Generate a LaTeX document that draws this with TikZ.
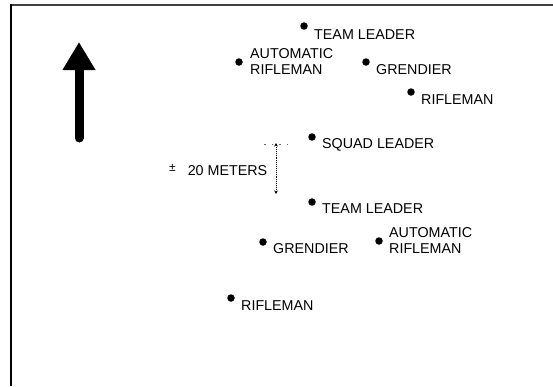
\documentclass[tikz,border=0pt]{standalone}
\usepackage{fontspec}
\setmainfont{Liberation Sans}
\usetikzlibrary{arrows.meta}
\tikzset{
  man/.style={circle,fill=black,inner sep=0pt,minimum size=7.5pt},
  lbl/.style={anchor=base west,inner sep=0pt,align=left,font=\fontsize{14.3}{16}\selectfont}
}
\begin{document}
\begin{tikzpicture}[x=1pt,y=-1pt]
  \useasboundingbox (0,0) rectangle (553,386);
  {
  % Drawing frame
  \draw [line width=2pt,black!75] (10,5) -- (553,5);%
  \draw [line width=2.5pt] (11,4) -- (11,386);%

  % Drawing north arrow
  \coordinate (arrbot) at (79,138);%
  \coordinate (arrtip) at (79,42);%
  \draw [line width=9pt,line cap=round,-{Triangle[width=31pt,length=28pt]}] (arrbot) -- (arrtip);%

  % Marking team leader (front)
  \node [man] (tla) at (304,26) {};%
  \node [lbl] (tlat) at (314,39) {TEAM LEADER};%

  % Marking automatic rifleman (front)
  \node [man] (ara) at (239,62) {};%
  \node [lbl] (arat) at (250,74) {AUTOMATIC\\RIFLEMAN};%

  % Marking grendier (front)
  \node [man] (gra) at (366,62) {};%
  \node [lbl] (grat) at (376,74) {GRENDIER};%

  % Marking rifleman (front)
  \node [man] (rfa) at (411,92) {};%
  \node [lbl] (rfat) at (421,104) {RIFLEMAN};%

  % Marking squad leader
  \node [man] (sl) at (312,137) {};%
  \node [lbl] (slt) at (322,148) {SQUAD LEADER};%

  % Marking team leader (rear)
  \node [man] (tlb) at (312,202) {};%
  \node [lbl] (tlbt) at (322,213) {TEAM LEADER};%

  % Marking grendier (rear)
  \node [man] (grb) at (263,242) {};%
  \node [lbl] (grbt) at (273,253) {GRENDIER};%

  % Marking automatic rifleman (rear)
  \node [man] (arb) at (379,241) {};%
  \node [lbl] (arbt) at (389,253) {AUTOMATIC\\RIFLEMAN};%

  % Marking rifleman (rear)
  \node [man] (rfb) at (231,298) {};%
  \node [lbl] (rfbt) at (241,310) {RIFLEMAN};%

  % Drawing distance mark
  \coordinate (dimtop) at (276,143);%
  \coordinate (dimbot) at (276,194);%
  \draw [line width=0.9pt,densely dotted,{Stealth[length=3.5pt,width=3.5pt]}-{Stealth[length=3.5pt,width=3.5pt]}] (dimtop) -- (dimbot);%
  \draw [line width=0.8pt,black!60,dash pattern=on 1.5pt off 6pt] (264,144) -- (288,144);%
  \node [lbl] (dimt) at (169,175) {\raisebox{4pt}{\fontsize{12}{12}\selectfont ±}\hspace{12pt}20 METERS};%
  }
\end{tikzpicture}
\end{document}
